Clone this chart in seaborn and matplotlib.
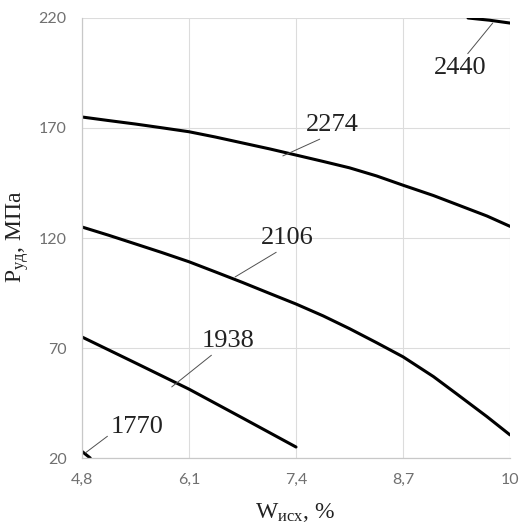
import matplotlib
matplotlib.use("Agg")
import matplotlib.pyplot as plt
import seaborn as sns
import pandas as pd

# ---- data ----
x_1770 = [4.80, 4.90]
y_1770 = [23.0, 20.0]

x_1938 = [4.80, 5.45, 6.10, 6.75, 7.40]
y_1938 = [75.0, 63.2, 51.3, 38.2, 25.0]

x_2106 = [4.80, 5.12, 5.45, 5.77, 6.10, 6.42, 6.75, 7.08, 7.40, 7.73, 8.05, 8.38, 8.70, 9.07, 9.35, 9.72, 10.00]
y_2106 = [125.0, 121.3, 117.3, 113.4, 109.2, 104.6, 99.8, 94.8, 90.0, 84.6, 78.8, 72.4, 66.0, 57.0, 49.2, 38.8, 30.5]

x_2274 = [4.80, 5.12, 5.45, 5.77, 6.10, 6.42, 6.75, 7.08, 7.40, 7.73, 8.05, 8.38, 8.70, 9.07, 9.35, 9.72, 10.00]
y_2274 = [175.0, 173.4, 171.8, 170.1, 168.3, 165.9, 163.2, 160.5, 157.7, 154.8, 151.9, 148.2, 144.0, 139.3, 135.3, 130.0, 125.3]

x_2440 = [9.49, 9.75, 10.00]
y_2440 = [220.0, 219.0, 217.7]

series_names = ["1770", "1938", "2106", "2274", "2440"]
series_x = [x_1770, x_1938, x_2106, x_2274, x_2440]
series_y = [y_1770, y_1938, y_2106, y_2274, y_2440]

# label text positions and leader targets
label_text_x = [5.47, 6.57, 7.29, 7.84, 9.39]
label_text_y = [34.0, 73.2, 120.0, 171.4, 197.3]
label_tip_x = [4.84, 5.89, 6.66, 7.24, 9.79]
label_tip_y = [22.3, 52.3, 102.3, 157.3, 217.7]
label_relpos = [(0.0, 0.2), (0.27, 0.0), (0.4, 0.0), (0.4, 0.0), (0.6, 1.0)]

x_ticks = [4.8, 6.1, 7.4, 8.7, 10.0]
x_tick_labels = ["4,8", "6,1", "7,4", "8,7", "10"]
y_ticks = [20, 70, 120, 170, 220]
y_tick_labels = ["20", "70", "120", "170", "220"]

# ---- build table ----
rows = []
for name, xs, ys in zip(series_names, series_x, series_y):
    for i, (xv, yv) in enumerate(zip(xs, ys)):
        rows.append({"series": name, "order": i, "W": xv, "P": yv})
df = pd.DataFrame(rows)

sns.set_theme(style="white")
plt.rcParams["font.family"] = ["Liberation Serif", "DejaVu Serif"]
plt.rcParams["mathtext.fontset"] = "custom"
plt.rcParams["mathtext.rm"] = "Liberation Serif"
plt.rcParams["mathtext.it"] = "Liberation Serif:italic"
plt.rcParams["lines.solid_joinstyle"] = "round"

fig = plt.figure(figsize=(5.28, 5.26), dpi=100)
ax = fig.add_axes([82 / 528, 1 - 458 / 526, 428 / 528, 440 / 526])

sns.lineplot(
    data=df, x="W", y="P", hue="series", units="series", estimator=None,
    sort=False, palette=["black"] * len(series_names), linewidth=2.2,
    legend=False, ax=ax,
)

ax.set_xlim(4.8, 10.0)
ax.set_ylim(20, 220)
ax.set_xticks(x_ticks)
ax.set_xticklabels(x_tick_labels)
ax.set_yticks(y_ticks)
ax.set_yticklabels(y_tick_labels)

tick_color = "#707070"
for lab in ax.get_xticklabels() + ax.get_yticklabels():
    lab.set_family(["Lato", "DejaVu Sans"])
    lab.set_fontsize(11.5)
    lab.set_color(tick_color)
ax.tick_params(axis="both", length=0, pad=11)

ax.grid(True, color="#dcdcdc", linewidth=0.8)
ax.set_axisbelow(True)
for side in ["top", "right"]:
    ax.spines[side].set_visible(False)
for side in ["left", "bottom"]:
    ax.spines[side].set_color("#c8c8c8")
    ax.spines[side].set_linewidth(0.9)

ax.set_xlabel(r"W$_{\mathregular{исх}}$, %", fontsize=17, color="#222222")
ax.set_ylabel(r"P$_{\mathregular{уд}}$, МПа", fontsize=17, color="#222222")
ax.xaxis.set_label_coords((295 - 82) / 428, (458 - 512) / 440)
ax.xaxis.label.set_va("center")
ax.yaxis.set_label_coords((18 - 82) / 428, (458 - 237) / 440)
ax.yaxis.label.set_va("center")

for name, tx, ty, px, py, rp in zip(series_names, label_text_x, label_text_y,
                                    label_tip_x, label_tip_y, label_relpos):
    ax.annotate(
        name, xy=(px, py), xytext=(tx, ty), textcoords="data",
        ha="center", va="center", fontsize=19, color="#222222",
        arrowprops=dict(arrowstyle="-", color="#505050", lw=0.7,
                        shrinkA=0, shrinkB=0, relpos=rp),
        annotation_clip=False,
    )

fig.savefig("out.png", dpi=100)
